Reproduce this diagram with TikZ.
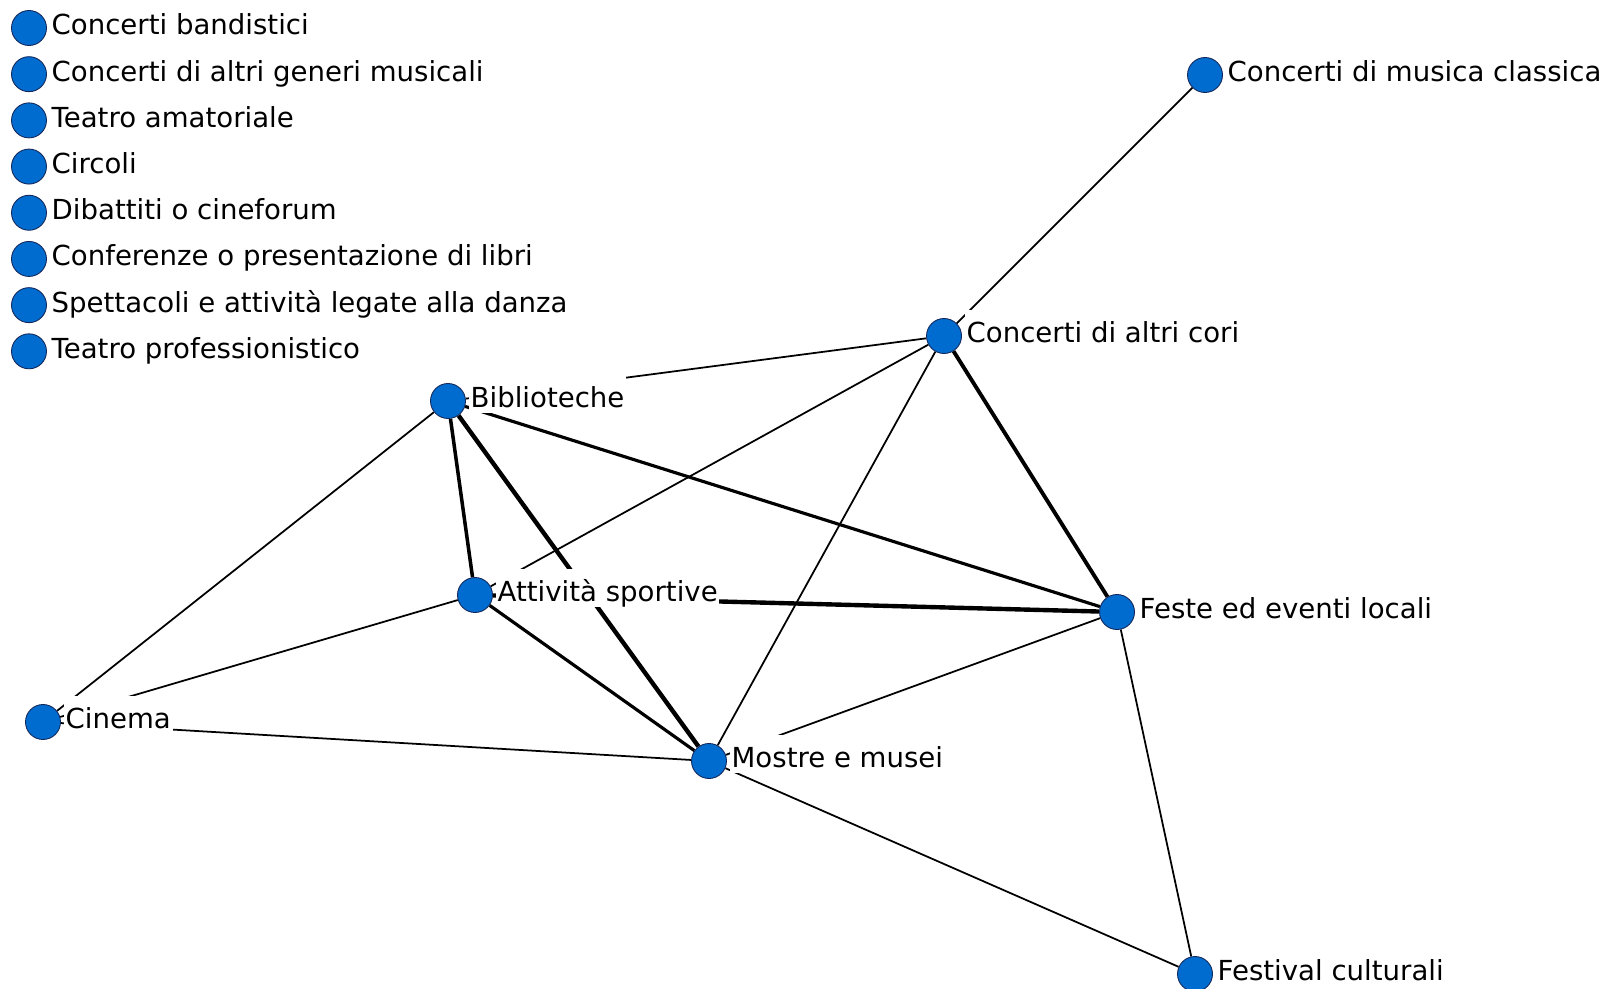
\documentclass[tikz,border=0pt]{standalone}
\usepackage{fontspec}
\setmainfont{DejaVu Sans}
\usepackage{tikz}
\usetikzlibrary{positioning}
\usetikzlibrary{backgrounds}
\definecolor{nodeblue}{RGB}{0,108,208}
\definecolor{nodeedge}{RGB}{20,40,90}
\tikzset{vx/.style={circle, fill=nodeblue, draw=nodeedge, line width=0.5pt, minimum size=0.7cm, inner sep=0pt}}
\tikzset{tag/.style={fill=white, inner xsep=1pt, inner ysep=1pt, text height=17.7pt, text depth=1.8pt, yshift=4pt, font=\fontsize{15.7}{18}\selectfont}}
\tikzset{lo/.style={line width=1pt}}
\tikzset{md/.style={line width=1.8pt}}
\tikzset{hi/.style={line width=2.5pt}}

\begin{document}
\begin{tikzpicture}[x=0.02cm, y=-0.02cm, node distance=0.924cm]
   \useasboundingbox (0,0) rectangle (1611,989);

   % activities with no links
   \node[vx] (CB) at (29,28) {};
   \node[vx] (CG) [below of=CB] {};
   \node[vx] (TA) [below of=CG] {};
   \node[vx] (CR) [below of=TA] {};
   \node[vx] (DC) [below of=CR] {};
   \node[vx] (CP) [below of=DC] {};
   \node[vx] (SD) [below of=CP] {};
   \node[vx] (TP) [below of=SD] {};

   % linked activities
   \node[vx] (MC) at (1205,75)  {};
   \node[vx] (CA) at (944,336)  {};
   \node[vx] (BI) at (448,401)  {};
   \node[vx] (AS) at (475,595)  {};
   \node[vx] (FE) at (1117,612) {};
   \node[vx] (CI) at (43,722)   {};
   \node[vx] (MM) at (709,761)  {};
   \node[vx] (FC) at (1195,974) {};

   \node[tag, right=1.5pt of CB] (CBt) {Concerti bandistici};
   \node[tag, right=1.5pt of CG] (CGt) {Concerti di altri generi musicali};
   \node[tag, right=1.5pt of TA] (TAt) {Teatro amatoriale};
   \node[tag, right=1.5pt of CR] (CRt) {Circoli};
   \node[tag, right=1.5pt of DC] (DCt) {Dibattiti o cineforum};
   \node[tag, right=1.5pt of CP] (CPt) {Conferenze o presentazione di libri};
   \node[tag, right=1.5pt of SD] (SDt) {Spettacoli e attività legate alla danza};
   \node[tag, right=1.5pt of TP] (TPt) {Teatro professionistico};
   \node[tag, right=1.5pt of MC] (MCt) {Concerti di musica classica};
   \node[tag, right=1.5pt of CA] (CAt) {Concerti di altri cori};
   \node[tag, right=1.5pt of BI] (BIt) {Biblioteche};
   \node[tag, right=1.5pt of AS] (ASt) {Attività sportive};
   \node[tag, right=1.5pt of FE] (FEt) {Feste ed eventi locali};
   \node[tag, right=1.5pt of CI] (CIt) {Cinema};
   \node[tag, right=1.5pt of MM] (MMt) {Mostre e musei};
   \node[tag, right=1.5pt of FC] (FCt) {Festival culturali};

   \begin{scope}[on background layer]
      \fill[white] (0,0) rectangle (1611,989);
      \draw[lo] (MC) -- (CA);
      \draw[lo] (CA) -- (BI);
      \draw[lo] (CA) -- (AS);
      \draw[lo] (CA) -- (MM);
      \draw[line width=2.2pt] (CA) -- (FE);
      \draw[md] (BI) -- (FE);
      \draw[line width=2pt] (BI) -- (AS);
      \draw[hi] (BI) -- (MM);
      \draw[lo] (BI) -- (CI);
      \draw[hi] (AS) -- (FE);
      \draw[lo] (AS) -- (CI);
      \draw[md] (AS) -- (MM);
      \draw[lo] (CI) -- (MM);
      \draw[lo] (MM) -- (FE);
      \draw[lo] (MM) -- (FC);
      \draw[lo] (FE) -- (FC);
   \end{scope}
\end{tikzpicture}
\end{document}
